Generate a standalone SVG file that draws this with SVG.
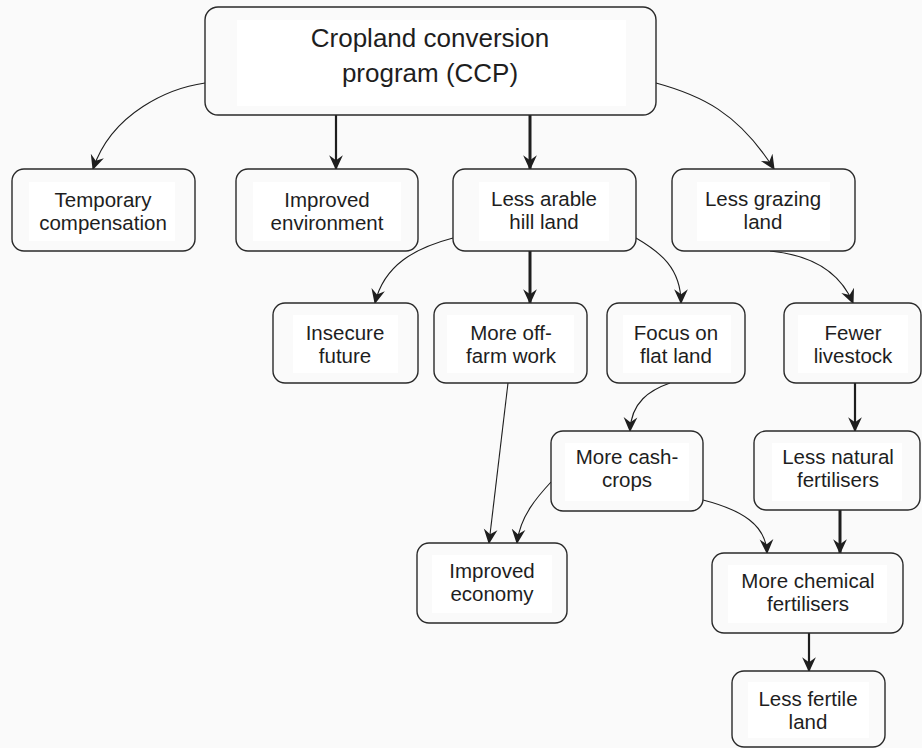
<svg xmlns="http://www.w3.org/2000/svg" width="922" height="748" viewBox="0 0 922 748">
<defs>
<style>
.box{fill:#fafafa;stroke:#2a2a2a;stroke-width:1.4}
.in{fill:#ffffff;stroke:none}
.t{font-family:"Liberation Sans",Arial,sans-serif;font-size:20.5px;fill:#1e1e1e;text-anchor:middle}
.tt{font-size:26px}
.c{fill:none;stroke:#1e1e1e;stroke-width:1.1}
.s2{stroke-width:2.2}
.s3{stroke-width:3}
</style>
<marker id="ah" viewBox="0 0 12 12" refX="11" refY="6" markerWidth="15" markerHeight="15" markerUnits="userSpaceOnUse" orient="auto">
<path d="M0,0.5 L12,6 L0,11.5 L4,6 z" fill="#1e1e1e"/>
</marker>
</defs>
<rect width="922" height="748" fill="#fafafa"/>
<g id="connectors">
<path class="c" d="M205,83 C170,88 112,112 93,169" marker-end="url(#ah)"/>
<path class="c s2" d="M336,115 L336,169" marker-end="url(#ah)"/>
<path class="c s3" d="M530,115 L530,169" marker-end="url(#ah)"/>
<path class="c" d="M656,83 C700,95 738,112 774,169" marker-end="url(#ah)"/>
<path class="c" d="M453,238 C415,248 384,265 375,303" marker-end="url(#ah)"/>
<path class="c s3" d="M530,251 L530,303" marker-end="url(#ah)"/>
<path class="c" d="M636,238 C660,252 681,268 681,303" marker-end="url(#ah)"/>
<path class="c" d="M770,251 C812,255 840,272 853,303" marker-end="url(#ah)"/>
<path class="c" d="M508,383 L489,543" marker-end="url(#ah)"/>
<path class="c" d="M670,383 C650,390 631,402 630,431" marker-end="url(#ah)"/>
<path class="c" d="M551,482 C538,496 520,516 517,543" marker-end="url(#ah)"/>
<path class="c" d="M703,500 C742,510 766,525 767,553" marker-end="url(#ah)"/>
<path class="c s2" d="M855,383 L855,431" marker-end="url(#ah)"/>
<path class="c s3" d="M840,510 L840,553" marker-end="url(#ah)"/>
<path class="c s2" d="M809,633 L809,671" marker-end="url(#ah)"/>
</g>
<g id="ccp">
<rect class="box" x="205" y="7" width="451" height="108" rx="13"/>
<rect class="in" x="237" y="20" width="389" height="86"/>
<text class="t tt" x="430" y="47">Cropland conversion</text>
<text class="t tt" x="430" y="82">program (CCP)</text>
</g>
<g id="temporary">
<rect class="box" x="12" y="169" width="183" height="82" rx="12"/>
<rect class="in" x="29" y="182" width="146" height="59"/>
<text class="t" x="103" y="207">Temporary</text>
<text class="t" x="103" y="230">compensation</text>
</g>
<g id="environment">
<rect class="box" x="236" y="169" width="182" height="82" rx="12"/>
<rect class="in" x="253" y="182" width="148" height="59"/>
<text class="t" x="327" y="207">Improved</text>
<text class="t" x="327" y="230">environment</text>
</g>
<g id="arable">
<rect class="box" x="453" y="169" width="183" height="82" rx="12"/>
<rect class="in" x="479" y="182" width="130" height="59"/>
<text class="t" x="544" y="206">Less arable</text>
<text class="t" x="544" y="229">hill land</text>
</g>
<g id="grazing">
<rect class="box" x="672" y="169" width="183" height="82" rx="12"/>
<rect class="in" x="697" y="182" width="133" height="59"/>
<text class="t" x="763" y="206">Less grazing</text>
<text class="t" x="763" y="229">land</text>
</g>
<g id="insecure">
<rect class="box" x="273" y="303" width="145" height="80" rx="12"/>
<rect class="in" x="293" y="315" width="105" height="58"/>
<text class="t" x="345" y="340">Insecure</text>
<text class="t" x="345" y="363">future</text>
</g>
<g id="offfarm">
<rect class="box" x="434" y="303" width="153" height="80" rx="12"/>
<rect class="in" x="447" y="315" width="127" height="58"/>
<text class="t" x="511" y="340">More off-</text>
<text class="t" x="511" y="363">farm work</text>
</g>
<g id="flat">
<rect class="box" x="607" y="303" width="138" height="80" rx="12"/>
<rect class="in" x="623" y="315" width="108" height="58"/>
<text class="t" x="676" y="340">Focus on</text>
<text class="t" x="676" y="363">flat land</text>
</g>
<g id="livestock">
<rect class="box" x="784" y="303" width="137" height="80" rx="12"/>
<rect class="in" x="798" y="315" width="110" height="58"/>
<text class="t" x="853" y="340">Fewer</text>
<text class="t" x="853" y="363">livestock</text>
</g>
<g id="cashcrops">
<rect class="box" x="551" y="431" width="152" height="80" rx="12"/>
<rect class="in" x="565" y="443" width="124" height="58"/>
<text class="t" x="627" y="464">More cash-</text>
<text class="t" x="627" y="487">crops</text>
</g>
<g id="natural">
<rect class="box" x="754" y="431" width="166" height="79" rx="12"/>
<rect class="in" x="772" y="443" width="130" height="58"/>
<text class="t" x="838" y="464">Less natural</text>
<text class="t" x="838" y="487">fertilisers</text>
</g>
<g id="economy">
<rect class="box" x="417" y="543" width="150" height="80" rx="12"/>
<rect class="in" x="432" y="555" width="120" height="58"/>
<text class="t" x="492" y="578">Improved</text>
<text class="t" x="492" y="601">economy</text>
</g>
<g id="chemical">
<rect class="box" x="712" y="553" width="191" height="80" rx="12"/>
<rect class="in" x="728" y="565" width="159" height="58"/>
<text class="t" x="808" y="588">More chemical</text>
<text class="t" x="808" y="611">fertilisers</text>
</g>
<g id="fertile">
<rect class="box" x="732" y="671" width="153" height="76" rx="12"/>
<rect class="in" x="748" y="682" width="121" height="56"/>
<text class="t" x="808" y="706">Less fertile</text>
<text class="t" x="808" y="729">land</text>
</g>
</svg>
